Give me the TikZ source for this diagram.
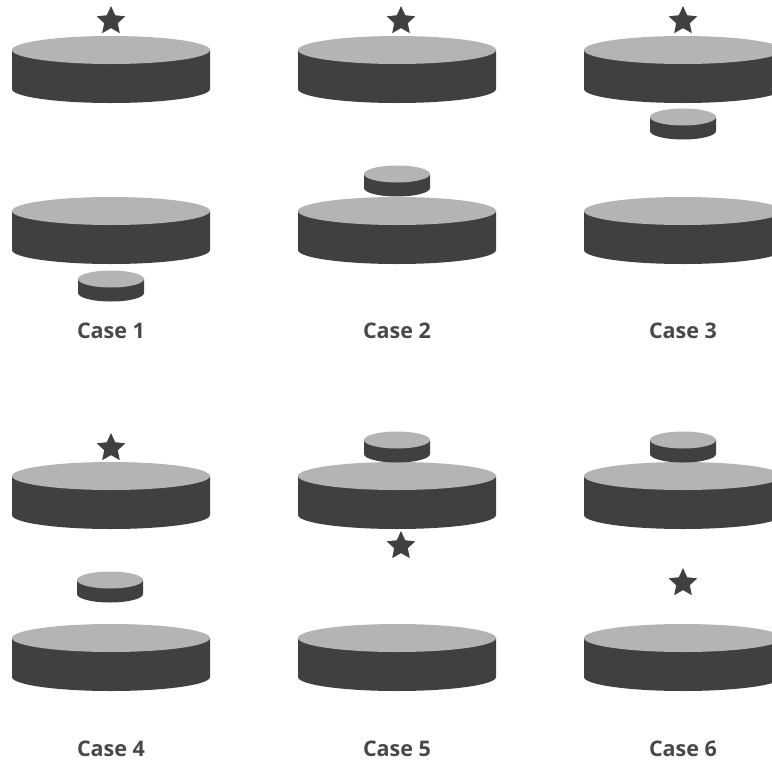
\documentclass[tikz,border=0pt]{standalone}
\usepackage{fontspec}
\setmainfont{Open Sans}
\usetikzlibrary{shapes.geometric}
\definecolor{diskside}{RGB}{64,64,64}
\definecolor{disktop}{RGB}{180,180,180}
\definecolor{casetext}{RGB}{72,72,72}
\tikzset{
    starmark/.style={star, star points=5, star point ratio=2.1, fill=diskside, minimum size=30pt, inner sep=0pt},
    caselabel/.style={casetext, font=\fontsize{21.5}{25}\selectfont\bfseries}
}
% side wall first, then the lid: centre x, centre y of lid
\newcommand{\bigdisk}[2]{
    \fill[diskside] (#1-99,#2) -- (#1-99,#2+39) arc[start angle=180, end angle=0, x radius=99, y radius=14] -- (#1+99,#2) -- cycle;
    \fill[disktop] (#1,#2) ellipse[x radius=99, y radius=14];
}
\newcommand{\smalldisk}[2]{
    \fill[diskside] (#1-33,#2) -- (#1-33,#2+14) arc[start angle=180, end angle=0, x radius=33, y radius=8.5] -- (#1+33,#2) -- cycle;
    \fill[disktop] (#1,#2) ellipse[x radius=33, y radius=8.5];
}
\begin{document}
\begin{tikzpicture}[x=1pt, y=-1pt]
    \clip (0,0) rectangle (772,761);

    % Large disks, two pairs in every column
    \foreach \cx in {111,397,683} {
        \foreach \cy in {50,211,476,638} {
            \bigdisk{\cx}{\cy}
        }
    }

    % Small disks
    \smalldisk{111}{279}
    \smalldisk{397}{174}
    \smalldisk{683}{117}
    \smalldisk{110}{580}
    \smalldisk{397}{440}
    \smalldisk{683}{440}

    % Stars
    \node[starmark] (starone) at (111,21) {};
    \node[starmark] (startwo) at (401,21) {};
    \node[starmark] (starthree) at (683,21) {};
    \node[starmark] (starfour) at (111,448) {};
    \node[starmark] (starfive) at (401,546) {};
    \node[starmark] (starsix) at (683,583) {};

    % Labels
    \node[caselabel] (caseone) at (111,331) {Case 1};
    \node[caselabel] (casetwo) at (397,331) {Case 2};
    \node[caselabel] (casethree) at (683,331) {Case 3};
    \node[caselabel] (casefour) at (111,749) {Case 4};
    \node[caselabel] (casefive) at (397,749) {Case 5};
    \node[caselabel] (casesix) at (683,749) {Case 6};
\end{tikzpicture}
\end{document}
